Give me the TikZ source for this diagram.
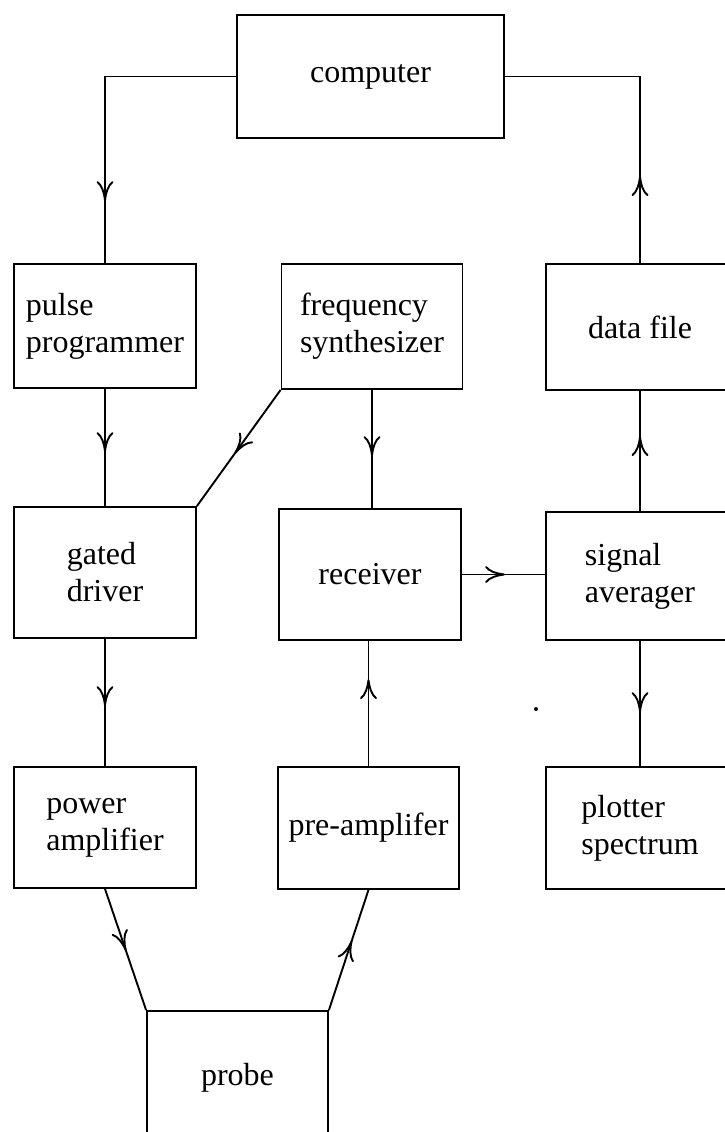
\documentclass[tikz,border=0pt]{standalone}
\usepackage{fontspec}
\setmainfont{Liberation Serif}
\usetikzlibrary{arrows.meta,decorations.markings}
\begin{document}
\begin{tikzpicture}[x=1pt,y=-1pt,
  box/.style={draw, line width=1.8pt, align=left, inner sep=0pt,
    font=\fontsize{32}{37}\selectfont},
  conn/.style={line width=1.9pt},
  tipat/.style={postaction={decorate}, decoration={markings,
    mark=at position #1 with {\arrow{To[length=20pt,width=17pt]}}}}]
\useasboundingbox (0,0) rectangle (725,1132);
\fill[white] (0,0) rectangle (725,1132);
\clip (0,0) rectangle (725,1132);
% boxes
\node[box, minimum width=267pt, minimum height=123pt] (computer) at (370.5,76.5) {computer};
\node[box, minimum width=182pt, minimum height=124pt] (pulse) at (105,326) {pulse\\programmer};
\node[box, minimum width=181pt, minimum height=125pt] (freq) at (372,326.5) {frequency\\synthesizer};
\node[box, minimum width=188pt, minimum height=126pt] (data) at (640,327) {data file};
\node[box, minimum width=182pt, minimum height=131pt] (gated) at (105,572.5) {gated\\driver};
\node[box, minimum width=182pt, minimum height=131pt] (receiver) at (370,574.5) {receiver};
\node[box, minimum width=188pt, minimum height=128pt] (signal) at (640,576) {signal\\averager};
\node[box, minimum width=182pt, minimum height=121pt] (power) at (105,827.5) {power\\amplifier};
\node[box, minimum width=181pt, minimum height=122pt] (preamp) at (368.5,828) {pre-amplifer};
\node[box, minimum width=188pt, minimum height=122pt] (plotter) at (640,828) {plotter\\spectrum};
\node[box, minimum width=181pt, minimum height=134pt] (probe) at (237.5,1078) {probe};
% connectors
\draw[conn, tipat=-62pt] (computer.west) -| (pulse.north);
\draw[conn, tipat=87pt] (data.north) |- (computer.east);
\draw[conn, tipat=-54pt] (pulse.south) -- (gated.north);
\draw[conn, tipat=-65pt] (freq.south west) -- (gated.north east);
\draw[conn, tipat=-52pt] (freq.south) -- (freq.south |- receiver.north);
\draw[conn, tipat=-40pt] (receiver.east) -- (receiver.east -| signal.west);
\draw[conn, tipat=75pt] (signal.north) -- (data.south);
\draw[conn, tipat=-54pt] (signal.south) -- (plotter.north);
\draw[conn, tipat=-60pt] (gated.south) -- (power.north);
\draw[conn, tipat=87pt] (preamp.north) -- (preamp.north |- receiver.south);
\draw[conn, tipat=-63pt] (power.south) -- (probe.north west);
\draw[conn, tipat=73pt] (probe.north east) -- (preamp.south);
% speck
\fill (536,709) circle (2pt);
\end{tikzpicture}
\end{document}
